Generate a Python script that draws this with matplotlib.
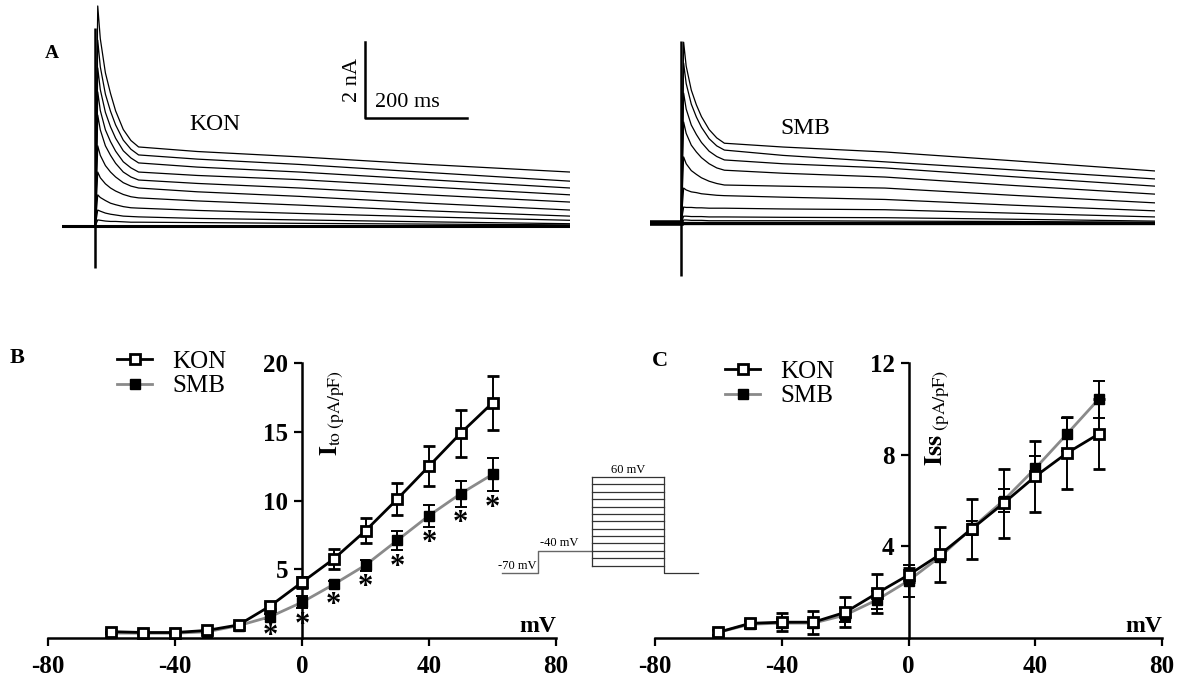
import numpy as np
import matplotlib
matplotlib.use('Agg')
import matplotlib.pyplot as plt
from matplotlib.lines import Line2D

W, H = 1186, 683

plt.rcParams['font.family'] = 'serif'
plt.rcParams['font.serif'] = ['Liberation Serif', 'DejaVu Serif']
plt.rcParams['mathtext.fontset'] = 'stix'
plt.rcParams['axes.unicode_minus'] = False

# ---- panel A: current traces (ms, nA) ----
trace_t = [-65, 0, 5, 10, 20, 30, 40, 55, 70, 85, 200, 400, 650, 930]
kon_traces = [
    [0, 0, 5.79, 4.93, 4.03, 3.49, 3.03, 2.54, 2.25, 2.08, 1.96, 1.82, 1.62, 1.42],
    [0, 0, 4.89, 4.19, 3.47, 3.02, 2.66, 2.26, 2.02, 1.87, 1.76, 1.62, 1.41, 1.18],
    [0, 0, 4.16, 3.59, 2.99, 2.61, 2.31, 1.98, 1.79, 1.66, 1.55, 1.42, 1.22, 1.00],
    [0, 0, 3.53, 3.04, 2.53, 2.22, 1.97, 1.69, 1.53, 1.42, 1.33, 1.22, 1.03, 0.82],
    [0, 0, 2.92, 2.53, 2.11, 1.86, 1.65, 1.42, 1.29, 1.21, 1.12, 1.00, 0.82, 0.63],
    [0, 0, 2.11, 1.86, 1.59, 1.42, 1.29, 1.14, 1.05, 1.00, 0.90, 0.78, 0.60, 0.42],
    [0, 0, 1.42, 1.27, 1.11, 1.00, 0.92, 0.83, 0.77, 0.74, 0.66, 0.55, 0.40, 0.26],
    [0, 0, 0.82, 0.75, 0.67, 0.60, 0.56, 0.51, 0.48, 0.47, 0.41, 0.33, 0.24, 0.15],
    [0, 0, 0.42, 0.39, 0.34, 0.31, 0.29, 0.26, 0.25, 0.24, 0.20, 0.16, 0.11, 0.06],
    [0, 0, 0.16, 0.15, 0.13, 0.12, 0.12, 0.11, 0.10, 0.10, 0.09, 0.07, 0.05, 0.03],
    [0, 0, 0, 0, 0, 0, 0, 0, 0, 0, 0, 0, 0, 0],
]
smb_traces = [
    [0, 0, 4.76, 4.13, 3.50, 3.11, 2.80, 2.46, 2.24, 2.10, 2.00, 1.87, 1.64, 1.37],
    [0, 0, 4.21, 3.67, 3.13, 2.79, 2.52, 2.22, 2.03, 1.92, 1.78, 1.61, 1.40, 1.16],
    [0, 0, 3.42, 3.00, 2.58, 2.33, 2.12, 1.89, 1.75, 1.66, 1.56, 1.45, 1.22, 0.97],
    [0, 0, 2.66, 2.36, 2.05, 1.87, 1.72, 1.56, 1.45, 1.39, 1.31, 1.21, 0.99, 0.76],
    [0, 0, 1.74, 1.56, 1.38, 1.28, 1.19, 1.10, 1.04, 1.00, 0.97, 0.92, 0.73, 0.53],
    [0, 0, 0.92, 0.87, 0.82, 0.80, 0.77, 0.75, 0.73, 0.72, 0.68, 0.62, 0.47, 0.32],
    [0, 0, 0.42, 0.41, 0.41, 0.40, 0.40, 0.39, 0.39, 0.39, 0.37, 0.35, 0.26, 0.16],
    [0, 0, 0.18, 0.18, 0.17, 0.17, 0.17, 0.16, 0.16, 0.16, 0.15, 0.14, 0.10, 0.05],
    [0, 0, 0.08, 0.08, 0.07, 0.07, 0.07, 0.06, 0.06, 0.06, 0.06, 0.05, 0.04, 0.02],
    [0, 0, 0, 0, 0, 0, 0, 0, 0, 0, 0, 0, 0, 0],
]
kon_transient = (-1.1, 5.2)
smb_transient = (-1.4, 4.8)
bar_ms, bar_na = 200, 2

# ---- panels B and C: I-V data ----
volts = [-60, -50, -40, -30, -20, -10, 0, 10, 20, 30, 40, 50, 60]
ito_kon = [0.46, 0.40, 0.40, 0.55, 0.95, 2.33, 4.05, 5.75, 7.8, 10.1, 12.5, 14.9, 17.1]
ito_kon_err = [0.1, 0.1, 0.1, 0.1, 0.15, 0.2, 0.4, 0.7, 0.9, 1.15, 1.45, 1.7, 1.95]
ito_smb = [0.36, 0.35, 0.35, 0.45, 0.9, 1.55, 2.6, 3.9, 5.3, 7.1, 8.9, 10.5, 11.9]
ito_smb_err = [0.05, 0.05, 0.05, 0.1, 0.1, 0.2, 0.45, 0.25, 0.4, 0.7, 0.8, 0.95, 1.2]
significant = [False, False, False, False, False, True, True, True, True, True, True, True, True]

iss_kon = [0.25, 0.64, 0.69, 0.69, 1.12, 1.95, 2.75, 3.65, 4.76, 5.88, 7.05, 8.07, 8.9]
iss_kon_err = [0.1, 0.2, 0.39, 0.5, 0.66, 0.86, 0.3, 1.2, 1.3, 1.5, 1.53, 1.58, 1.53]
iss_smb = [0.25, 0.6, 0.65, 0.65, 1.0, 1.66, 2.5, 3.55, 4.8, 6.0, 7.4, 8.9, 10.42]
iss_smb_err = [0.1, 0.15, 0.2, 0.2, 0.3, 0.4, 0.7, 0.25, 0.3, 0.5, 0.56, 0.72, 0.8]

# voltage protocol (arbitrary time units, mV)
protocol_t = [0, 36, 90, 162, 196]
holding_mv, prepulse_mv = -70, -40
step_mv = [-60, -50, -40, -30, -20, -10, 0, 10, 20, 30, 40, 50, 60]

GRAY = '#8a8a8a'


def px_box(x0, y0, x1, y1):
    return [x0 / W, 1 - y1 / H, (x1 - x0) / W, (y1 - y0) / H]


def ftext(x, y, s, **kw):
    fig.text(x / W, 1 - y / H, s, **kw)


fig = plt.figure(figsize=(W / 100, H / 100), dpi=100)

# traces
axk = fig.add_axes(px_box(62, 0, 570, 280))
for tr in kon_traces:
    axk.plot(trace_t, tr, color='k', lw=0.9)
axk.plot(trace_t, kon_traces[-1], color='k', lw=2.2)
axk.vlines(0, kon_transient[0], kon_transient[1], color='k', lw=1.8)
axk.plot([529, 529, 529 + bar_ms], [2.84 + bar_na, 2.84, 2.84], color='k', lw=1.8)
axk.text(529 - 6, 2.84 + bar_na / 2, '%d nA' % bar_na, rotation=90,
         ha='right', va='center', fontsize=16)
axk.text(529 + 20, 2.84 + 0.15, '%d ms' % bar_ms, ha='left', va='bottom', fontsize=16)
axk.set_xlim(-65, 930)
axk.set_ylim(-1.421, 5.947)
axk.axis('off')

axs = fig.add_axes(px_box(650, 0, 1155, 280))
for tr in smb_traces:
    axs.plot(trace_t, tr, color='k', lw=0.9)
axs.plot(trace_t, smb_traces[-1], color='k', lw=2.4)
axs.plot(trace_t[:2], smb_traces[-1][:2], color='k', lw=4)
axs.vlines(0, smb_transient[0], smb_transient[1], color='k', lw=1.8)
axs.set_xlim(-61, 930)
axs.set_ylim(-1.5, 5.87)
axs.axis('off')

ftext(52, 53, 'A', fontsize=14, fontweight='bold', ha='center', va='center')
ftext(215, 124, 'KON', fontsize=17, ha='center', va='center')
ftext(805, 128, 'SMB', fontsize=17, ha='center', va='center')


def iv_panel(box, kon, kon_err, smb, smb_err, ymax, yticks):
    ax = fig.add_axes(px_box(*box))
    ax.errorbar(volts, smb, yerr=smb_err, color=GRAY, lw=2, marker='s', ms=7.5,
                mfc='k', mec='k', ecolor='k', elinewidth=1.4, capsize=4,
                capthick=1.4, zorder=3)
    ax.errorbar(volts, kon, yerr=kon_err, color='k', lw=2, marker='s', ms=7.5,
                mfc='white', mec='k', mew=2, ecolor='k', elinewidth=1.4,
                capsize=4, capthick=1.4, zorder=4)
    for c in ax.get_children():
        c.set_clip_on(False)
    ax.set_xlim(-80, 80)
    ax.set_ylim(0, ymax)
    ax.spines['left'].set_position(('data', 0))
    ax.spines['top'].set_visible(False)
    ax.spines['right'].set_visible(False)
    for s in ('left', 'bottom'):
        ax.spines[s].set_linewidth(1.8)
    ax.set_xticks([-80, -40, 0, 40, 80])
    ax.set_yticks(yticks)
    ax.tick_params(direction='out', length=6, width=1.6, labelsize=18)
    ax.tick_params(axis='x', pad=6)
    ax.tick_params(axis='y', pad=4)
    for lab in ax.get_xticklabels() + ax.get_yticklabels():
        lab.set_fontweight('bold')
    ax.patch.set_visible(False)
    return ax


axb = iv_panel((48, 363, 556, 638), ito_kon, ito_kon_err, ito_smb, ito_smb_err, 20, [5, 10, 15, 20])
for v, m, e, s in zip(volts, ito_smb, ito_smb_err, significant):
    if s:
        axb.annotate('*', (v, m - e), xytext=(0, -2), textcoords='offset points',
                     ha='center', va='top', fontsize=22, fontweight='bold')

axc = iv_panel((655, 363, 1162, 638), iss_kon, iss_kon_err, iss_smb, iss_smb_err, 12, [4, 8, 12])

handles = [Line2D([], [], color='k', lw=2, marker='s', ms=7.5, mfc='white', mec='k', mew=2),
           Line2D([], [], color=GRAY, lw=2, marker='s', ms=7.5, mfc='k', mec='k')]
for x0, y0 in ((117, 350), (725, 360)):
    fig.legend(handles, ['KON', 'SMB'], loc='upper left', bbox_to_anchor=(x0 / W, 1 - y0 / H),
               frameon=False, fontsize=18, handlelength=1.4, handletextpad=0.8,
               labelspacing=0.1, borderpad=0, borderaxespad=0)

ftext(17, 358, 'B', fontsize=16, fontweight='bold', ha='center', va='center')
ftext(660, 361, 'C', fontsize=16, fontweight='bold', ha='center', va='center')
ftext(556, 627, 'mV', fontsize=17, fontweight='bold', ha='right', va='center')
ftext(1162, 627, 'mV', fontsize=17, fontweight='bold', ha='right', va='center')
ftext(333, 370, r'$\mathbf{I}_{\mathrm{to\ (pA/pF)}}$', fontsize=18, rotation=90,
      ha='center', va='top')
ftext(938, 370, r'$\mathbf{Iss}_{\mathrm{\ (pA/pF)}}$', fontsize=19, rotation=90,
      ha='center', va='top')

# protocol inset
axp = fig.add_axes(px_box(502, 477, 698, 573))
t0, t1, t2, t3, t4 = protocol_t
axp.plot([t0, t1, t1, t2], [holding_mv, holding_mv, prepulse_mv, prepulse_mv],
         color='#666666', lw=1)
for v in step_mv:
    axp.plot([t2, t3], [v, v], color='#333333', lw=0.9)
axp.plot([t2, t2], [min(step_mv), max(step_mv)], color='#333333', lw=0.9)
axp.plot([t3, t3, t4], [max(step_mv), holding_mv, holding_mv], color='#333333', lw=0.9)
axp.text((t2 + t3) / 2, max(step_mv) + 2, '%d mV' % max(step_mv), ha='center', va='bottom', fontsize=9)
axp.text((t1 + t2) / 2 - 6, prepulse_mv + 2, '%d mV' % prepulse_mv, ha='center', va='bottom', fontsize=9)
axp.text(t1 - 2, holding_mv + 2, '%d mV' % holding_mv, ha='right', va='bottom', fontsize=9)
axp.set_xlim(0, 196)
axp.set_ylim(-70, 60)
axp.axis('off')
for c in axp.get_children():
    c.set_clip_on(False)

fig.savefig('out.png', dpi=100)
